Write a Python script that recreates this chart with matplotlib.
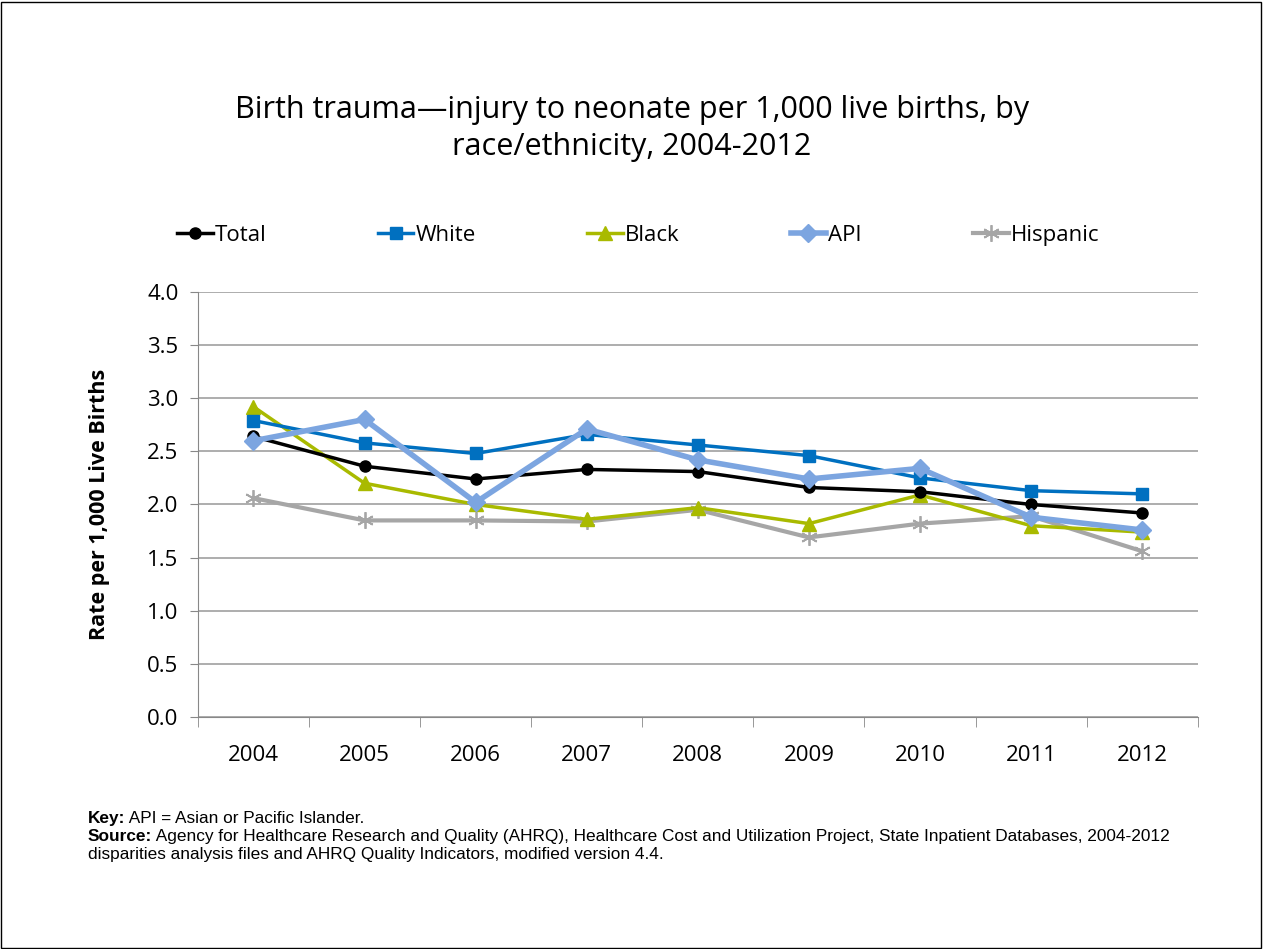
import matplotlib
matplotlib.use('Agg')
import matplotlib.pyplot as plt
from matplotlib.patches import Rectangle

years = ['2004', '2005', '2006', '2007', '2008', '2009', '2010', '2011', '2012']
total = [2.64, 2.36, 2.24, 2.33, 2.31, 2.16, 2.12, 2.00, 1.92]
white = [2.79, 2.58, 2.48, 2.66, 2.56, 2.46, 2.25, 2.13, 2.10]
black = [2.92, 2.20, 2.00, 1.86, 1.97, 1.82, 2.09, 1.80, 1.74]
api = [2.60, 2.80, 2.02, 2.71, 2.42, 2.24, 2.34, 1.88, 1.76]
hispanic = [2.06, 1.85, 1.85, 1.84, 1.95, 1.69, 1.82, 1.89, 1.56]
yticks = [0.0, 0.5, 1.0, 1.5, 2.0, 2.5, 3.0, 3.5, 4.0]

font = 'Open Sans'

fig = plt.figure(figsize=(12.64, 9.49), dpi=100)
fig.patches.append(Rectangle((0.001, 0.001), 0.997, 0.997, transform=fig.transFigure,
                             fill=False, edgecolor='black', linewidth=1))
ax = fig.add_axes([0.1566, 0.2445, 0.791, 0.4478])

x = list(range(len(years)))
ax.plot(x, total, color='black', lw=2.5, marker='o', ms=8, label='Total', zorder=5)
ax.plot(x, white, color='#0070C0', lw=2.5, marker='s', ms=9, label='White', zorder=4)
ax.plot(x, black, color='#A9BA00', lw=2.5, marker='^', ms=10, label='Black', zorder=3)
ax.plot(x, api, color='#7CA5E0', lw=4, marker='D', ms=9, label='API', zorder=6)
ax.plot(x, hispanic, color='#A6A6A6', lw=3, marker=(6, 2, 0), ms=12, mew=1.3, label='Hispanic', zorder=2)

ax.set_xlim(-0.5, len(years) - 0.5)
ax.set_ylim(0, 4.0)
ax.set_yticks(yticks)
ax.set_yticklabels(['%.1f' % v for v in yticks], fontsize=16, family=font)
ax.set_xticks(x)
ax.set_xticklabels(years, fontsize=16, family=font)
ax.set_xticks([i - 0.5 for i in range(len(years) + 1)], minor=True)
ax.tick_params(axis='x', which='major', length=0, pad=20)
ax.tick_params(axis='x', which='minor', length=7, color='#888888', direction='out')
ax.tick_params(axis='y', length=6, color='#888888', direction='out', pad=8)
ax.grid(axis='y', color='#A0A0A0', lw=1.2)
ax.set_axisbelow(True)
for s in ['top', 'right']:
    ax.spines[s].set_visible(False)
ax.spines['left'].set_color('#888888')
ax.spines['bottom'].set_color('#888888')
ax.set_ylabel('Rate per 1,000 Live Births', fontsize=15.5, fontweight='bold', family=font, labelpad=27)

fig.text(0.5, 0.865, 'Birth trauma\u2014injury to neonate per 1,000 live births, by\nrace/ethnicity, 2004-2012',
         ha='center', va='center', fontsize=22, family=font, linespacing=1.3)

fig.legend(loc='center', bbox_to_anchor=(0.505, 0.752), ncol=5, frameon=False,
           prop={'family': font, 'size': 16}, handlelength=1.6, handletextpad=0.1,
           columnspacing=5.0)

# footnotes: bold lead word followed by regular text
notes = [
    ('Key:', ' API = Asian or Pacific Islander.'),
    ('Source:', ' Agency for Healthcare Research and Quality (AHRQ), Healthcare Cost and Utilization Project, State Inpatient Databases, 2004-2012'),
    ('', 'disparities analysis files and AHRQ Quality Indicators, modified version 4.4.'),
]
renderer = fig.canvas.get_renderer()
x0 = 88 / 1264
ypos = [0.133, 0.114, 0.095]
for (bold, rest), yy in zip(notes, ypos):
    xx = x0
    if bold:
        t = fig.text(xx, yy, bold, fontsize=12.4, family='Liberation Sans', fontweight='bold')
        bb = t.get_window_extent(renderer)
        xx = bb.x1 / fig.bbox.width
    fig.text(xx, yy, rest, fontsize=12.4, family='Liberation Sans')

fig.savefig('out.png', dpi=100)
